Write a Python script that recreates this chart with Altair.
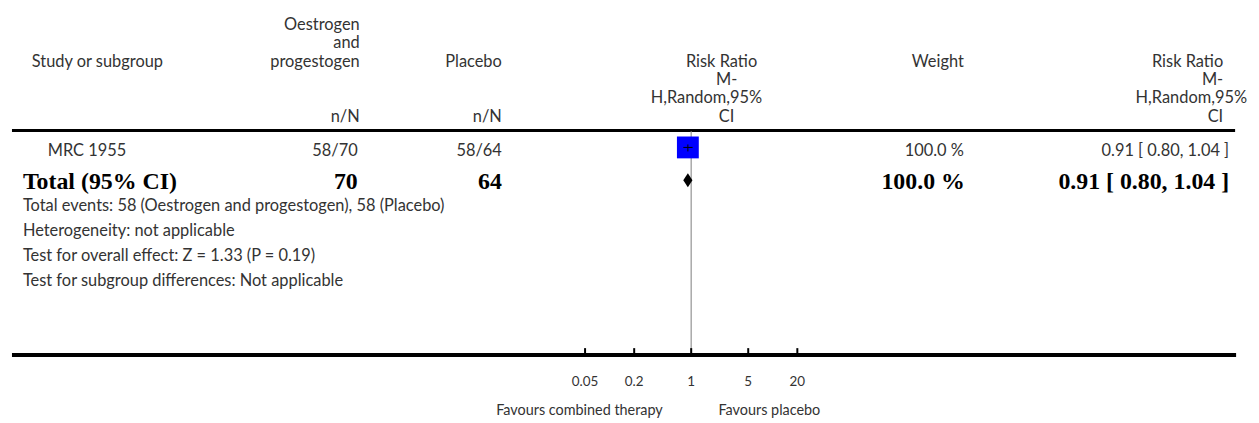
import altair as alt
import pandas as pd

# ---------------- data ----------------
studies = ["MRC 1955"]
events_tx = [58]
total_tx = [70]
events_pl = [58]
total_pl = [64]
rr = [0.91]
ci_lo = [0.80]
ci_hi = [1.04]
weights = [100.0]

pooled_rr = [0.91]
pooled_lo = [0.80]
pooled_hi = [1.04]
pooled_total_tx = [70]
pooled_total_pl = [64]
pooled_weight = [100.0]

footnotes = [
    "Total events: 58 (Oestrogen and progestogen), 58 (Placebo)",
    "Heterogeneity: not applicable",
    "Test for overall effect: Z = 1.33 (P = 0.19)",
    "Test for subgroup differences: Not applicable",
]
tick_values = [0.05, 0.2, 1, 5, 20]
tick_labels = ["0.05", "0.2", "1", "5", "20"]
left_label = "Favours combined therapy"
right_label = "Favours placebo"

# ---------------- layout helpers ----------------
OFF = 8  # page margin
SANS = "Lato"
SERIF = "Liberation Serif"
GREY = "#333333"
FS = 16.5
BS = 24
XS = alt.Scale(type="log", domain=[0.01, 100], range=[523.4, 851.8])


def P(v):
    return v - OFF


def txt(s, x, y, align="left", bold=False, size=FS, font=SANS, color=GREY):
    return alt.Chart(pd.DataFrame({"t": [s]})).mark_text(
        align=align, baseline="middle", font=font, fontSize=size,
        fontWeight="bold" if bold else "normal", color=color
    ).encode(text="t:N", x=alt.value(P(x)), y=alt.value(P(y)))


layers = []

# header
layers += [
    txt("Study or subgroup", 32, 61),
    txt("Oestrogen", 362, 24, "right"),
    txt("and", 362, 42, "right"),
    txt("progestogen", 362, 61, "right"),
    txt("n/N", 362, 116, "right"),
    txt("Placebo", 505, 61, "right"),
    txt("n/N", 505, 116, "right"),
    txt("Risk Ratio", 762, 61, "right"),
    txt("M-", 742, 79, "right"),
    txt("H,Random,95%", 767, 97, "right"),
    txt("CI", 739, 116, "right"),
    txt("Weight", 970, 61, "right"),
    txt("Risk Ratio", 1231, 61, "right"),
    txt("M-", 1231, 79, "right"),
    txt("H,Random,95%", 1255, 97, "right"),
    txt("CI", 1231, 116, "right"),
]

# header and bottom rules
layers.append(alt.Chart(pd.DataFrame({"a": [0]})).mark_rule(color="black", strokeWidth=3).encode(
    x=alt.value(P(12)), x2=alt.value(P(1243)), y=alt.value(P(130))))
layers.append(alt.Chart(pd.DataFrame({"a": [0]})).mark_rule(color="black", strokeWidth=4).encode(
    x=alt.value(P(12)), x2=alt.value(P(1244)), y=alt.value(P(356))))

# line of no effect
layers.append(alt.Chart(pd.DataFrame({"v": [1]})).mark_rule(color="#a8a8a8", strokeWidth=1.5).encode(
    x=alt.X("v:Q", scale=XS, axis=None), y=alt.value(P(131)), y2=alt.value(P(354))))

# study rows
row_y = [151]
sq_y = [147]
for i, s in enumerate(studies):
    y = row_y[i]
    layers += [
        txt(s, 48, y),
        txt(f"{events_tx[i]}/{total_tx[i]}", 360, y, "right"),
        txt(f"{events_pl[i]}/{total_pl[i]}", 505, y, "right"),
        txt(f"{weights[i]:.1f} %", 970, y, "right"),
        txt(f"{rr[i]:.2f} [ {ci_lo[i]:.2f}, {ci_hi[i]:.2f} ]", 1237, y, "right"),
    ]
    d = pd.DataFrame({"rr": [rr[i]], "lo": [ci_lo[i]], "hi": [ci_hi[i]], "w": [weights[i]]})
    layers.append(alt.Chart(d).mark_square(color="#0000ff", opacity=1, size=484).encode(
        x=alt.X("rr:Q", scale=XS, axis=None), y=alt.value(P(sq_y[i]))))
    layers.append(alt.Chart(d).mark_rule(color="black", strokeWidth=1).encode(
        x=alt.X("lo:Q", scale=XS, axis=None), x2="hi:Q", y=alt.value(P(sq_y[i]))))
    layers.append(alt.Chart(d).mark_rule(color="black", strokeWidth=1).encode(
        x=alt.X("rr:Q", scale=XS, axis=None), y=alt.value(P(sq_y[i] - 3)), y2=alt.value(P(sq_y[i] + 4))))

# total row
ty = 182
layers += [
    txt("Total (95% CI)", 23, ty, bold=True, size=BS, font=SERIF, color="black"),
    txt(f"{pooled_total_tx[0]}", 360, ty, "right", True, BS, SERIF, "black"),
    txt(f"{pooled_total_pl[0]}", 505, ty, "right", True, BS, SERIF, "black"),
    txt(f"{pooled_weight[0]:.1f} %", 971, ty, "right", True, BS, SERIF, "black"),
    txt(f"{pooled_rr[0]:.2f} [ {pooled_lo[0]:.2f}, {pooled_hi[0]:.2f} ]", 1237, ty, "right", True, BS, SERIF, "black"),
]
dpool = pd.DataFrame({"rr": pooled_rr, "lo": pooled_lo, "hi": pooled_hi})
layers.append(alt.Chart(dpool).mark_point(
    shape="M-0.66,0L0,-1L0.66,0L0,1Z", filled=True, color="black", opacity=1, size=196, strokeWidth=0
).encode(x=alt.X("rr:Q", scale=XS, axis=None), y=alt.value(P(ty - 2))))

# footnotes
foot_y = [206, 231, 256, 281]
for s, y in zip(footnotes, foot_y):
    layers.append(txt(s, 23, y))

# axis ticks and labels
dt = pd.DataFrame({"v": tick_values, "lab": tick_labels})
layers.append(alt.Chart(dt).mark_rule(color="black", strokeWidth=2).encode(
    x=alt.X("v:Q", scale=XS, axis=None), y=alt.value(P(349)), y2=alt.value(P(356))))
layers.append(alt.Chart(dt).mark_text(font=SANS, fontSize=13.5, color=GREY, baseline="middle").encode(
    x=alt.X("v:Q", scale=XS, axis=None), y=alt.value(P(383)), text="lab:N"))
layers += [
    txt(left_label, 667, 412, "right", size=14.5),
    txt(right_label, 723, 412, "left", size=14.5),
]

chart = alt.layer(*layers).properties(
    width=1251, height=412,
    autosize=alt.AutoSizeParams(type="none"),
    padding=0,
).configure_view(stroke=None)

chart.save("out.html", embed_options={"renderer": "svg", "actions": False})
